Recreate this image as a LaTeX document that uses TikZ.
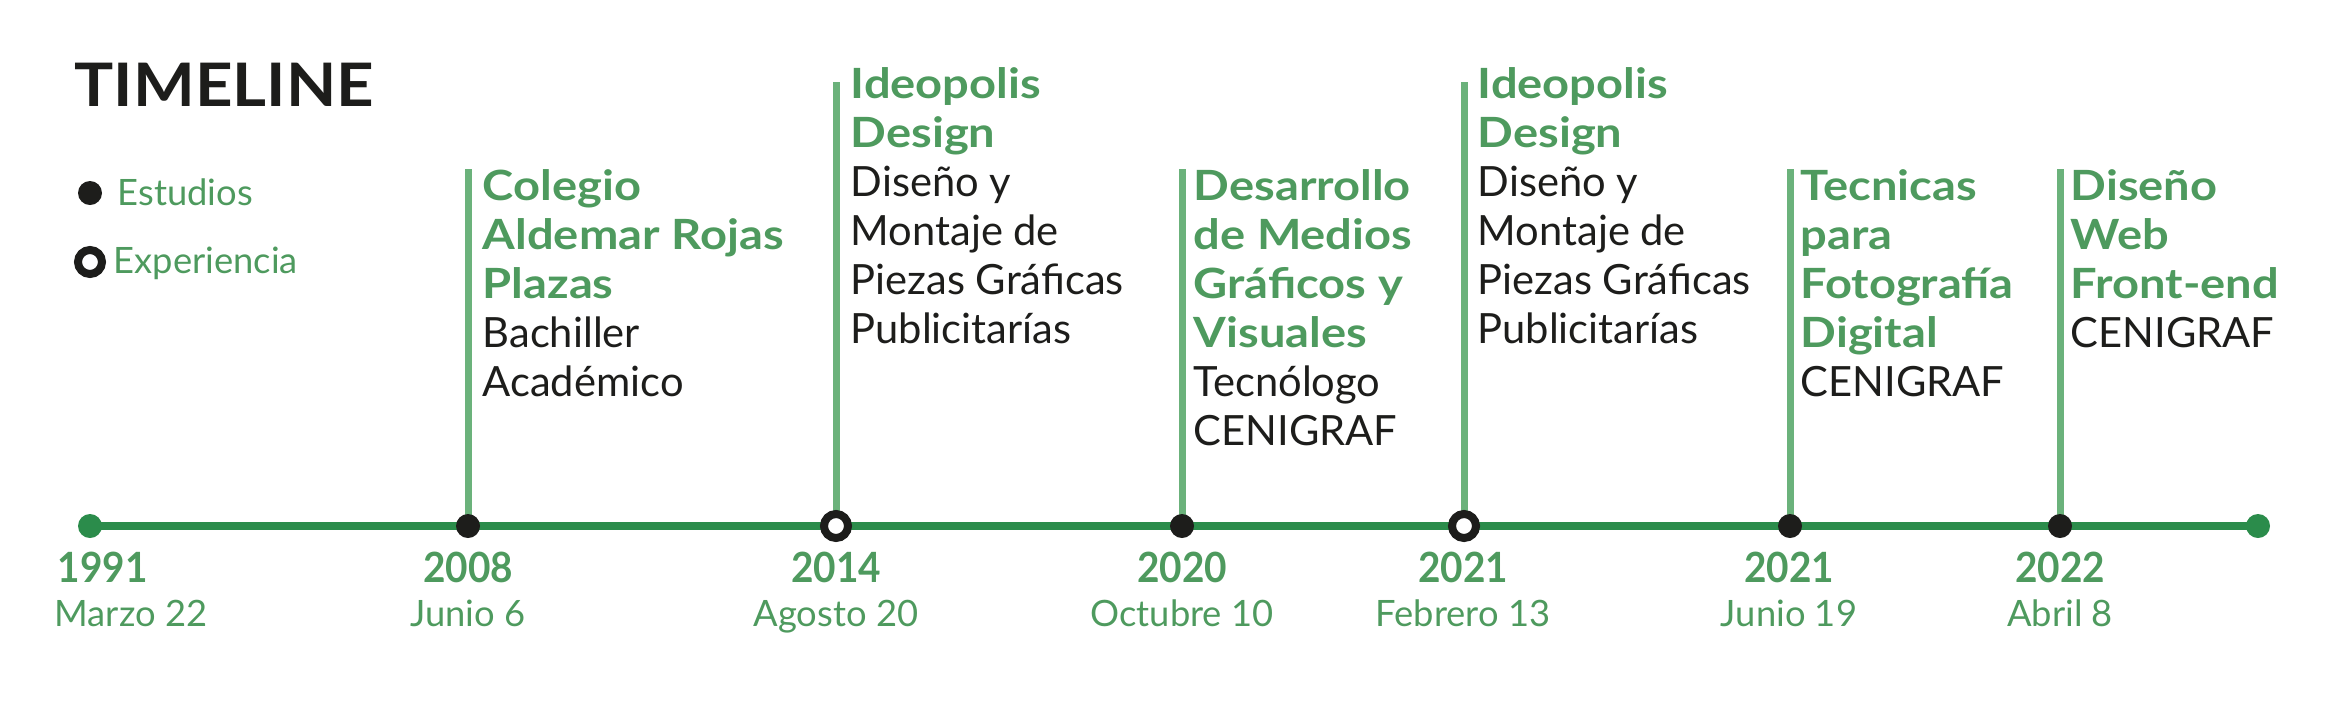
\documentclass[tikz,border=0pt]{standalone}
\usepackage{fontspec}
\setmainfont{Lato}
\newfontfamily\headfont[FakeStretch=1.13]{Lato}
\newfontfamily\yearfont[FakeStretch=0.93]{Lato}
\newfontfamily\titlefont[FakeStretch=1.09]{Lato}
\usetikzlibrary{backgrounds}
\definecolor{headgreen}{HTML}{4E9A5E}
\definecolor{stemgreen}{HTML}{6BB27B}
\definecolor{linegreen}{HTML}{2B8C4B}
\definecolor{dotblack}{HTML}{1D1D1B}
\newcommand{\hd}[1]{{\headfont\bfseries\color{headgreen}#1}}

\begin{document}
\begin{tikzpicture}[x=0.3pt, y=-0.3pt]
        \tikzstyle{study}=[circle, fill=dotblack, minimum size=7.2pt, inner sep=0pt];
        \tikzstyle{work}=[circle, draw=dotblack, line width=2.4pt, fill=white, minimum size=7.2pt, inner sep=0pt];
        \tikzstyle{edge}=[circle, fill=linegreen, minimum size=7.2pt, inner sep=0pt];
        \tikzstyle{spine}=[draw=linegreen, line width=2.6pt];
        \tikzstyle{stem}=[draw=stemgreen, line width=2.1pt];
        \tikzstyle{year}=[anchor=base, inner sep=0pt, text=headgreen, font=\yearfont\bfseries\fontsize{12.5}{14.7}\selectfont];
        \tikzstyle{date}=[anchor=base, inner sep=0pt, text=headgreen, font=\fontsize{10.9}{13}\selectfont];
        % anchored at the baseline of the last line
        \tikzstyle{entry}=[anchor=base west, align=left, inner sep=0pt, text=dotblack, font=\fontsize{12.5}{14.7}\selectfont];

        \useasboundingbox (0,0) rectangle (2332,709);

        % title and legend
        \node[anchor=base west, inner sep=0pt, text=dotblack, font=\titlefont\bfseries\fontsize{18}{20}\selectfont] (title) at (74,106) {TIMELINE};
        \node[study] (legstudy) at (90,193) {};
        \node[anchor=base west, inner sep=0pt, text=headgreen, font=\fontsize{10.9}{13}\selectfont] (legstudytxt) at (117,205) {Estudios};
        \node[work] (legwork) at (90,262) {};
        \node[anchor=base west, inner sep=0pt, text=headgreen, font=\fontsize{10.9}{13}\selectfont] (legworktxt) at (113,273) {Experiencia};

        % dots on the line
        \node[edge] (start) at (90,526) {};
        \node[study] (d2008) at (468,526) {};
        \node[work] (d2014) at (836,526) {};
        \node[study] (d2020) at (1182,526) {};
        \node[work] (d2021a) at (1464,526) {};
        \node[study] (d2021b) at (1790,526) {};
        \node[study] (d2022) at (2060,526) {};
        \node[edge] (end) at (2258,526) {};

        \coordinate (t2008) at (468,169);
        \coordinate (t2014) at (836,82);
        \coordinate (t2020) at (1182,169);
        \coordinate (t2021a) at (1464,82);
        \coordinate (t2021b) at (1790,169);
        \coordinate (t2022) at (2060,169);

        \begin{scope}[on background layer]
        \draw[spine] (start.center) -- (d2008.center);
        \draw[spine] (d2008.center) -- (d2014.center);
        \draw[spine] (d2014.center) -- (d2020.center);
        \draw[spine] (d2020.center) -- (d2021a.center);
        \draw[spine] (d2021a.center) -- (d2021b.center);
        \draw[spine] (d2021b.center) -- (d2022.center);
        \draw[spine] (d2022.center) -- (end.center);

        \draw[stem] (d2008.center) -- (t2008);
        \draw[stem] (d2014.center) -- (t2014);
        \draw[stem] (d2020.center) -- (t2020);
        \draw[stem] (d2021a.center) -- (t2021a);
        \draw[stem] (d2021b.center) -- (t2021b);
        \draw[stem] (d2022.center) -- (t2022);
        \end{scope}

        % entries
        \node[entry] (colegio) at (482,396) {\hd{Colegio}\\\hd{Aldemar Rojas}\\\hd{Plazas}\\Bachiller\\Académico};
        \node[entry] (ideo1) at (850,343) {\hd{Ideopolis}\\\hd{Design}\\Diseño y\\Montaje de\\Piezas Gráficas\\Publicitarías};
        \node[entry] (medios) at (1193,445) {\hd{Desarrollo}\\\hd{de Medios}\\\hd{Gráficos y}\\\hd{Visuales}\\Tecnólogo\\CENIGRAF};
        \node[entry] (ideo2) at (1477,343) {\hd{Ideopolis}\\\hd{Design}\\Diseño y\\Montaje de\\Piezas Gráficas\\Publicitarías};
        \node[entry] (foto) at (1800,396) {\hd{Tecnicas}\\\hd{para}\\\hd{Fotografía}\\\hd{Digital}\\CENIGRAF};
        \node[entry] (web) at (2070,347) {\hd{Diseño}\\\hd{Web}\\\hd{Front-end}\\CENIGRAF};

        % years and dates
        \node[year, anchor=base west] (y1991) at (57,582) {1991};
        \node[date, anchor=base west] (m1991) at (54,626) {Marzo 22};
        \node[year] (y2008) at (468,582) {2008};
        \node[date] (m2008) at (468,626) {Junio 6};
        \node[year] (y2014) at (836,582) {2014};
        \node[date] (m2014) at (836,626) {Agosto 20};
        \node[year] (y2020) at (1182,582) {2020};
        \node[date] (m2020) at (1182,626) {Octubre 10};
        \node[year] (y2021a) at (1463,582) {2021};
        \node[date] (m2021a) at (1463,626) {Febrero 13};
        \node[year] (y2021b) at (1789,582) {2021};
        \node[date] (m2021b) at (1789,626) {Junio 19};
        \node[year] (y2022) at (2060,582) {2022};
        \node[date] (m2022) at (2060,626) {Abril 8};
    \end{tikzpicture}
\end{document}
